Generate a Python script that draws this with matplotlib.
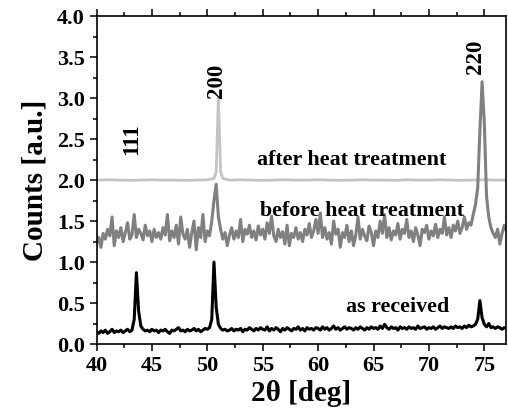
import numpy as np
import matplotlib
matplotlib.use('Agg')
from matplotlib import pyplot as plt
from matplotlib.ticker import MultipleLocator

# 2-theta grid, 0.2 deg step from 40 to 77
two_theta = np.round(np.arange(40.0, 77.001, 0.2), 1)

as_received = [
    0.15, 0.13, 0.16, 0.14, 0.17, 0.13, 0.15, 0.18, 0.14, 0.16,
    0.15, 0.17, 0.14, 0.16, 0.18, 0.15, 0.17, 0.30, 0.87, 0.40,
    0.22, 0.18, 0.16, 0.17, 0.15, 0.18, 0.16, 0.17, 0.14, 0.17,
    0.16, 0.18, 0.15, 0.13, 0.17, 0.16, 0.18, 0.20, 0.16, 0.17,
    0.15, 0.18, 0.16, 0.17, 0.19, 0.16, 0.18, 0.15, 0.17, 0.19,
    0.18, 0.20, 0.30, 1.00, 0.45, 0.24, 0.19, 0.17, 0.18, 0.16,
    0.17, 0.19, 0.16, 0.18, 0.17, 0.19, 0.15, 0.18, 0.17, 0.20,
    0.18, 0.16, 0.19, 0.17, 0.20, 0.18, 0.17, 0.21, 0.16, 0.19,
    0.17, 0.20, 0.18, 0.15, 0.19, 0.17, 0.20, 0.18, 0.16, 0.19,
    0.18, 0.21, 0.17, 0.19, 0.16, 0.20, 0.18, 0.19, 0.17, 0.20,
    0.19, 0.17, 0.21, 0.18, 0.20, 0.17, 0.19, 0.22, 0.18, 0.20,
    0.17, 0.19, 0.21, 0.18, 0.20, 0.19, 0.17, 0.20, 0.18, 0.21,
    0.19, 0.17, 0.20, 0.18, 0.21, 0.19, 0.20, 0.18, 0.22, 0.19,
    0.24, 0.20, 0.18, 0.21, 0.19, 0.20, 0.17, 0.21, 0.19, 0.20,
    0.18, 0.21, 0.19, 0.20, 0.18, 0.22, 0.19, 0.20, 0.21, 0.18,
    0.20, 0.19, 0.21, 0.18, 0.20, 0.22, 0.19, 0.21, 0.20, 0.19,
    0.21, 0.19, 0.22, 0.20, 0.21, 0.19, 0.22, 0.20, 0.23, 0.21,
    0.22, 0.24, 0.30, 0.53, 0.32, 0.24, 0.21, 0.25, 0.20, 0.21,
    0.19, 0.21, 0.20, 0.18, 0.20, 0.19,
]

before_heat = [
    1.22, 1.30, 1.18, 1.35, 1.28, 1.40, 1.32, 1.55, 1.20, 1.38,
    1.30, 1.42, 1.25, 1.36, 1.48, 1.28, 1.33, 1.58, 1.30, 1.40,
    1.35, 1.27, 1.45, 1.32, 1.38, 1.25, 1.40, 1.30, 1.36, 1.28,
    1.42, 1.33, 1.58, 1.26, 1.38, 1.30, 1.45, 1.22, 1.55, 1.34,
    1.28, 1.40, 1.18, 1.36, 1.50, 1.15, 1.42, 1.30, 1.58, 1.25,
    1.38, 1.32, 1.50, 1.75, 1.95, 1.55, 1.40, 1.28, 1.36, 1.20,
    1.33, 1.42, 1.28, 1.38, 1.30, 1.52, 1.25, 1.40, 1.34, 1.45,
    1.30, 1.38, 1.27, 1.44, 1.33, 1.40, 1.28, 1.48, 1.35, 1.56,
    1.32, 1.25, 1.40, 1.30, 1.37, 1.22, 1.45, 1.20, 1.35, 1.30,
    1.42, 1.28, 1.36, 1.25, 1.40, 1.33, 1.47, 1.30, 1.38, 1.52,
    1.35, 1.60, 1.30, 1.42, 1.28, 1.36, 1.22, 1.50, 1.34, 1.40,
    1.18, 1.36, 1.30, 1.45, 1.25, 1.38, 1.20, 1.33, 1.55, 1.28,
    1.40, 1.32, 1.26, 1.44, 1.36, 1.20, 1.38, 1.30, 1.50, 1.35,
    1.58, 1.30, 1.42, 1.27, 1.38, 1.33, 1.47, 1.28, 1.40, 1.35,
    1.52, 1.30, 1.38, 1.25, 1.42, 1.33, 1.20, 1.40, 1.36, 1.45,
    1.28, 1.38, 1.32, 1.46, 1.30, 1.40, 1.35, 1.55, 1.33, 1.42,
    1.30, 1.45, 1.38, 1.50, 1.35, 1.42, 1.55, 1.40, 1.48, 1.45,
    1.58, 1.70, 1.90, 2.60, 3.20, 2.70, 1.80, 1.55, 1.42, 1.35,
    1.30, 1.40, 1.22, 1.35, 1.45, 1.38,
]

# after heat treatment: nearly flat trace with a single (200) peak
after_theta = [40, 41, 42, 43, 44, 45, 46, 47, 48, 49, 50, 50.6, 50.8,
               51.0, 51.2, 51.4, 52, 53, 54, 55, 56, 57, 58, 59, 60, 61,
               62, 63, 64, 65, 66, 67, 68, 69, 70, 71, 72, 73, 74, 75,
               76, 77]
after_heat = [2.000, 2.004, 2.000, 1.997, 2.000, 2.004, 2.000, 2.000, 1.997,
              2.000, 2.004, 2.02, 2.10, 3.00, 2.10, 2.02, 2.000, 2.004,
              2.000, 1.997, 2.000, 2.004, 2.000, 2.000, 2.004, 2.000,
              1.997, 2.000, 2.004, 2.000, 2.000, 1.997, 2.004, 2.000,
              2.000, 2.004, 2.000, 1.997, 2.000, 2.004, 2.000, 2.000]

peak_labels = ['111', '200', '220']
peak_pos = [(43.15, 2.5), (50.85, 3.21), (74.2, 3.5)]

plt.rcParams['font.family'] = ['Liberation Serif', 'DejaVu Serif']
plt.rcParams['font.weight'] = 'bold'

fig = plt.figure(figsize=(5.08, 4.15), dpi=100)
ax = fig.add_axes([0.19, 0.171, 0.807, 0.79])

ax.plot(after_theta, after_heat, color='#c4c4c4', lw=2.0)
ax.plot(two_theta, before_heat, color='#808080', lw=2.2)
ax.plot(two_theta, as_received, color='black', lw=2.2)

for lab, (px, py) in zip(peak_labels, peak_pos):
    ax.text(px, py, lab, rotation=90, ha='center', va='center',
            fontsize=16.5, fontweight='bold')

ax.text(63.0, 2.19, 'after heat treatment', ha='center', va='baseline',
        fontsize=15.8, fontweight='bold')
ax.text(64.0, 1.56, 'before heat treatment', ha='center', va='baseline',
        fontsize=15.8, fontweight='bold')
ax.text(67.2, 0.39, 'as received', ha='center', va='baseline',
        fontsize=15.8, fontweight='bold')

ax.set_xlim(40, 77)
ax.set_ylim(0, 4)
ax.xaxis.set_major_locator(MultipleLocator(5))
ax.xaxis.set_minor_locator(MultipleLocator(2.5))
ax.yaxis.set_major_locator(MultipleLocator(0.5))
ax.yaxis.set_minor_locator(MultipleLocator(0.25))
ax.tick_params(which='both', direction='out', top=True, right=False,
               labelsize=16, width=1.1)
ax.tick_params(which='major', length=5)
ax.tick_params(which='minor', length=3)
for s in ax.spines.values():
    s.set_linewidth(1.2)

ax.set_xlabel('2θ [deg]', fontsize=21, fontweight='bold', labelpad=3)
ax.set_ylabel('Counts [a.u.]', fontsize=21, fontweight='bold', labelpad=6)

fig.savefig('out.png', dpi=100)
